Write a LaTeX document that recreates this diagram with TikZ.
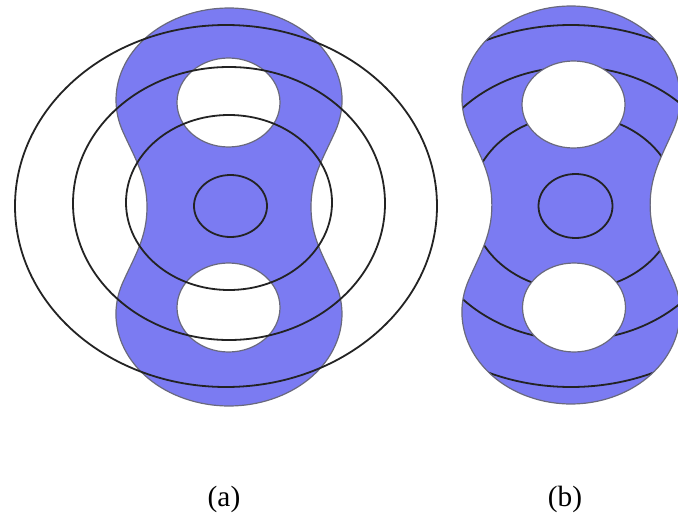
\documentclass[tikz,border=0pt]{standalone}
\usepackage{fontspec}
\setmainfont{Liberation Serif}
\definecolor{lobe}{RGB}{123,123,242}
\definecolor{rim}{RGB}{105,105,125}
\definecolor{ring}{RGB}{35,35,35}
\newcommand{\peanutpath}{(106.2,-75.5) arc[start angle=20, end angle=-200, x radius=113, y radius=92] .. controls (-93.8,-48.1) and (-82,-30) .. (-82,0) .. controls (-82,30) and (-93.8,48.1) .. (-106.2,75.5) arc[start angle=200, end angle=-20, x radius=113, y radius=92] .. controls (93.8,48.1) and (82,30) .. (82,0) .. controls (82,-30) and (93.8,-48.1) .. cycle}
\tikzset{
  body/.style={fill=lobe, draw=rim, line width=0.9pt},
  hole/.style={fill=white, draw=rim, line width=0.9pt},
  ringline/.style={draw=ring, line width=1.35pt},
  lab/.style={font=\fontsize{22}{26}\selectfont, anchor=base, inner sep=0pt}
}
\begin{document}
\begin{tikzpicture}[x=0.75pt, y=-0.75pt]
\useasboundingbox (0,0) rectangle (678,517);
% ---------- (a) ----------
\begin{scope}[shift={(229,207)}]
  \path[body] \peanutpath;
\end{scope}
\path[hole] (228.5,102.5) ellipse [x radius=51.5, y radius=44.5];
\path[hole] (228.5,307.5) ellipse [x radius=51.5, y radius=44.5];
\draw[ringline] (226,206) ellipse [x radius=211, y radius=181];
\draw[ringline] (229,203.5) ellipse [x radius=156, y radius=136.5];
\draw[ringline] (229,202.5) ellipse [x radius=103, y radius=87.5];
\draw[ringline] (230.5,206) ellipse [x radius=36.5, y radius=31];
% ---------- (b) ----------
\begin{scope}[shift={(571,205)}, xscale=0.965]
  \path[fill=lobe] \peanutpath;
  \clip \peanutpath;
  \begin{scope}[xscale=1/0.965, shift={(-571,-205)}, shift={(345,0)}]
    \draw[ringline] (226,206) ellipse [x radius=211, y radius=181];
    \draw[ringline] (229,203.5) ellipse [x radius=156, y radius=136.5];
    \draw[ringline] (229,202.5) ellipse [x radius=103, y radius=87.5];
  \end{scope}
\end{scope}
\begin{scope}[shift={(571,205)}, xscale=0.965]
  \path[draw=rim, line width=0.9pt] \peanutpath;
\end{scope}
\path[hole] (573.5,104.5) ellipse [x radius=51.5, y radius=43.5];
\path[hole] (574,307.5) ellipse [x radius=51.5, y radius=44.5];
\draw[ringline] (575.5,206) ellipse [x radius=37, y radius=32];
% ---------- labels ----------
\node[lab] (la) at (224,506.5) {(a)};
\node[lab] (lb) at (565,506.5) {(b)};
\end{tikzpicture}
\end{document}
